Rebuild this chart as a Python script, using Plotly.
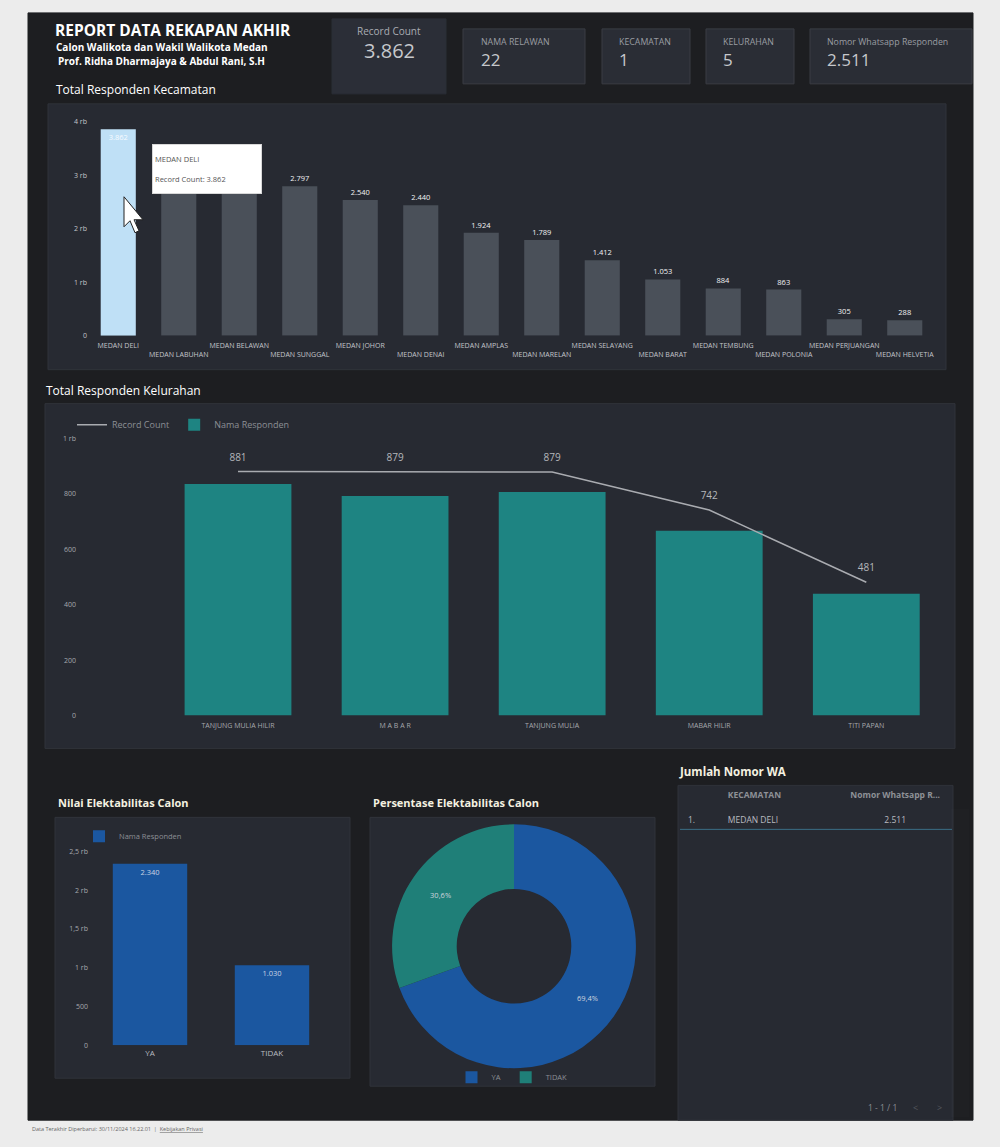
import plotly.graph_objects as go

W, H = 1000, 1147
FONT = "Open Sans"

# ---------------- data ----------------
kec_names = ["MEDAN DELI", "MEDAN LABUHAN", "MEDAN BELAWAN", "MEDAN SUNGGAL", "MEDAN JOHOR",
             "MEDAN DENAI", "MEDAN AMPLAS", "MEDAN MARELAN", "MEDAN SELAYANG", "MEDAN BARAT",
             "MEDAN TEMBUNG", "MEDAN POLONIA", "MEDAN PERJUANGAN", "MEDAN HELVETIA"]
kec_counts = [3862, 3150, 2950, 2797, 2540, 2440, 1924, 1789, 1412, 1053, 884, 863, 305, 288]
kec_hidden_labels = [1, 2]  # labels covered by the tooltip in the original
kec_tickvals = [0, 1000, 2000, 3000, 4000]
kec_ticktext = ["0", "1 rb", "2 rb", "3 rb", "4 rb"]

kel_names = ["TANJUNG MULIA HILIR", "M A B A R", "TANJUNG MULIA", "MABAR HILIR", "TITI PAPAN"]
kel_responden = [836, 793, 807, 667, 440]
kel_records = [881, 879, 879, 742, 481]
kel_tickvals = [0, 200, 400, 600, 800, 1000]
kel_ticktext = ["0", "200", "400", "600", "800", "1 rb"]

elek_labels = ["YA", "TIDAK"]
elek_values = [2340, 1030]
elek_tickvals = [0, 500, 1000, 1500, 2000, 2500]
elek_ticktext = ["0", "500", "1 rb", "1,5 rb", "2 rb", "2,5 rb"]

kpi_labels = ["Record Count", "NAMA RELAWAN", "KECAMATAN", "KELURAHAN", "Nomor Whatsapp Responden"]
kpi_values = [3862, 22, 1, 5, 2511]

wa_kecamatan = ["MEDAN DELI"]
wa_nomor = [2511]


def fmt(v):
    return f"{v:,}".replace(",", ".")


# page-to-figure mapping (compensates a slight vertical rescale of the captured page)
SY, OY = 0.9928, 4.1


def px(x):
    return x / W


def py(y):
    return 1 - ((y - OY) / SY) / H


# ---------------- colours ----------------
OUTER = "#ececec"
DARK = "#1d1e21"
PANEL = "#272a32"
PANEL_LINE = "#30333a"
CARD = "#2a2d35"
CARD_LINE = "#3a3d44"
AXIS = "#6a6d73"
TICK = "#c3c5ca"
GREY_BAR = "#4a5059"
HILITE = "#bfe0f6"
TEAL = "#1e8482"
BLUE = "#1b57a0"
PIE_TEAL = "#1f7f78"

fig = go.Figure()

# ---------------- chart 1: kecamatan ----------------
bar_colors = [HILITE] + [GREY_BAR] * (len(kec_names) - 1)
text_pos = ["inside"] + ["outside"] * (len(kec_names) - 1)
tmpl = ["" if i in kec_hidden_labels else "%{y:,}" for i in range(len(kec_names))]
fig.add_trace(go.Bar(
    x=kec_names, y=kec_counts, marker=dict(color=bar_colors, line=dict(width=0)),
    width=0.58, texttemplate=tmpl, textposition=text_pos, insidetextanchor="end",
    textfont=dict(color="#f2f2f2", size=7.5, family=FONT),
    insidetextfont=dict(color="#f7fbff", size=7.5, family=FONT),
    outsidetextfont=dict(color="#f2f2f2", size=7.5, family=FONT),
    cliponaxis=False, showlegend=False, xaxis="x", yaxis="y",
))

# ---------------- chart 2: kelurahan ----------------
fig.add_trace(go.Scatter(
    x=kel_names, y=kel_records, mode="lines+markers+text", name="Record Count",
    line=dict(color="#a9abb0", width=1.5),
    marker=dict(size=12, color="rgba(0,0,0,0)"),
    text=[fmt(v) for v in kel_records],
    textposition="top center", textfont=dict(color="#b5b7bb", size=10, family=FONT),
    cliponaxis=False, xaxis="x2", yaxis="y2", legend="legend2",
))
fig.add_trace(go.Bar(
    x=kel_names, y=kel_responden, name="Nama Responden",
    marker=dict(color=TEAL, line=dict(width=0)), width=0.68,
    xaxis="x2", yaxis="y2", legend="legend2",
))
fig.data[1].update(zorder=0)
fig.data[2].update(zorder=-1)

# ---------------- chart 3: elektabilitas ----------------
fig.add_trace(go.Bar(
    x=elek_labels, y=elek_values, name="Nama Responden",
    marker=dict(color=BLUE, line=dict(width=0)), width=0.61,
    texttemplate="%{y:,}", textposition="inside", insidetextanchor="end",
    insidetextfont=dict(color="#c9d3e2", size=7.5, family=FONT),
    xaxis="x3", yaxis="y3", legend="legend3",
))

# ---------------- chart 4: donut ----------------
fig.add_trace(go.Pie(
    labels=elek_labels, values=elek_values, hole=0.47, sort=False,
    direction="clockwise", rotation=0,
    marker=dict(colors=[BLUE, PIE_TEAL], line=dict(width=0)),
    texttemplate="%{percent:.1%}", textposition="inside",
    insidetextfont=dict(color="#cfd5de", size=7.5, family=FONT),
    domain=dict(x=[px(392), px(636)], y=[py(1068), py(824)]),
    legend="legend4",
))

# ---------------- chart 5: table ----------------
fig.add_trace(go.Table(
    domain=dict(x=[px(680), px(952)], y=[py(1118), py(781)]),
    columnwidth=[40, 120, 112],
    header=dict(values=["", "<b>KECAMATAN</b>", "<b>Nomor Whatsapp R...</b>"],
                fill_color="rgba(0,0,0,0)", line_color="rgba(0,0,0,0)", height=16,
                align=["left", "left", "center"],
                font=dict(color="#8e9197", size=8.5, family=FONT)),
    cells=dict(values=[["1."], wa_kecamatan, [fmt(v) for v in wa_nomor]],
               fill_color="rgba(0,0,0,0)", line_color="rgba(0,0,0,0)", height=16,
               align=["left", "left", "center"],
               font=dict(color="#b9bbc0", size=8.5, family=FONT)),
))

# ---------------- shapes (background / panels / cards) ----------------
shapes = []


def rect(x0, y0, x1, y1, fill, line=None, lw=1):
    shapes.append(dict(type="rect", xref="paper", yref="paper", layer="below",
                       x0=px(x0), x1=px(x1), y0=py(y1), y1=py(y0),
                       fillcolor=fill, line=dict(color=line or fill, width=lw)))


rect(28, 12, 973, 1120, DARK)
rect(48, 103, 946, 369, PANEL, PANEL_LINE)
rect(45, 403, 955, 748, PANEL, PANEL_LINE)
rect(55, 817, 350, 1078, PANEL, PANEL_LINE)
rect(370, 817, 655, 1086, PANEL, PANEL_LINE)
rect(678, 785, 953, 1120, PANEL, PANEL_LINE)
cards = [(332, 18, 446, 93), (463, 28, 585, 83), (602, 28, 690, 83), (706, 28, 794, 83), (810, 28, 972, 83)]
rect(*cards[0], "#2b2e37", "#2b2e37")
for c in cards[1:]:
    rect(*c, CARD, CARD_LINE)
shapes.append(dict(type="line", xref="paper", yref="paper", x0=px(680), x1=px(952),
                   y0=py(829), y1=py(829), line=dict(color="#3b6f86", width=1)))

# mouse pointer seen over the first bar
cur = [(124, 196), (124, 226), (130, 220), (135, 232), (139, 230), (134, 219), (143, 219)]
path = "M " + " L ".join(f"{px(a):.5f},{py(b):.5f}" for a, b in cur) + " Z"
shapes.append(dict(type="path", xref="paper", yref="paper", path=path,
                   fillcolor="#ffffff", line=dict(color="#222222", width=1)))

# ---------------- annotations ----------------
ann = []


def text(x, y, s, size, color, xanchor="left", yanchor="middle", bold=False, **kw):
    if bold:
        s = f"<b>{s}</b>"
    ann.append(dict(x=px(x), y=py(y), xref="paper", yref="paper", text=s, showarrow=False,
                    xanchor=xanchor, yanchor=yanchor,
                    font=dict(size=size, color=color, family=FONT), **kw))


text(53, 29, "REPORT DATA REKAPAN AKHIR", 15.5, "#ffffff", bold=True)
text(54, 46, "Calon Walikota dan Wakil Walikota Medan", 10, "#ffffff", bold=True)
text(56, 59.7, "Prof. Ridha Dharmajaya & Abdul Rani, S.H", 10, "#ffffff", bold=True)

text(389, 30, kpi_labels[0], 10, "#a9acb2", xanchor="center")
text(389, 50, fmt(kpi_values[0]), 20, "#c6c8cc", xanchor="center")
kpi_x = [None, 479, 617, 721, 825]
for i in range(1, 5):
    text(kpi_x[i], 41, kpi_labels[i], 8.8, "#9a9da3")
    text(kpi_x[i], 59, fmt(kpi_values[i]), 17, "#c6c8cc")

text(54, 89, "Total Responden Kecamatan", 12, "#ffffff")
text(44, 390, "Total Responden Kelurahan", 12, "#ffffff")
text(56, 802, "Nilai Elektabilitas Calon", 11, "#f4f1e0", bold=True)
text(371, 802, "Persentase Elektabilitas Calon", 11, "#f4f1e0", bold=True)
text(677, 771, "Jumlah Nomor WA", 11.5, "#f4f1e0", bold=True)

ann.append(dict(x=px(152), y=py(143), xref="paper", yref="paper", xanchor="left", yanchor="top",
                text=f"MEDAN DELI<br><br>Record Count: {fmt(kec_counts[0])}",
                showarrow=False, align="left", width=104, height=44, valign="middle",
                bgcolor="#ffffff", bordercolor="#d8d8d8", borderwidth=1, borderpad=2,
                font=dict(size=7.5, color="#555555", family=FONT)))

text(882, 1107, "1 - 1 / 1", 8.5, "#8a8d93", xanchor="center")
text(915, 1107, "&lt;", 9, "#55585e", xanchor="center")
text(939, 1107, "&gt;", 9, "#55585e", xanchor="center")

text(30, 1129, "Data Terakhir Diperbarui: 30/11/2024 16.22.01  |  <u>Kebijakan Privasi</u>", 5.5, "#666666")

# ---------------- axes ----------------
kec_ticklabels = [n if i % 2 == 0 else "<br>" + n for i, n in enumerate(kec_names)]
tickfont = dict(size=7, color=TICK, family=FONT)

fig.update_layout(
    width=W, height=H, margin=dict(l=0, r=0, t=0, b=0),
    paper_bgcolor=OUTER, plot_bgcolor="rgba(0,0,0,0)",
    separators=",.", font=dict(family=FONT),
    shapes=shapes, annotations=ann,
    xaxis=dict(domain=[px(88), px(935)], type="category", range=[-0.5, 13.5],
               tickvals=kec_names, ticktext=kec_ticklabels, tickfont=tickfont, tickangle=0,
               ticklabelstandoff=3,
               showline=True, linecolor=AXIS, linewidth=1, showgrid=False, ticks="",
               anchor="y"),
    yaxis=dict(domain=[py(335), py(121)], range=[0, 4000], tickvals=kec_tickvals,
               ticktext=kec_ticktext, tickfont=tickfont, showgrid=False, zeroline=False,
               showline=False, anchor="x"),
    xaxis2=dict(domain=[px(77), px(937)], type="category", range=[-1.025, 4.45],
                tickfont=dict(size=7, color="#a6a8ad", family=FONT), tickangle=0, showline=True,
                ticklabelstandoff=3,
                linecolor=AXIS, showgrid=False, ticks="", anchor="y2"),
    yaxis2=dict(domain=[py(715), py(438)], range=[0, 1000], tickvals=kel_tickvals,
                ticktext=kel_ticktext, tickfont=dict(size=7, color="#a6a8ad", family=FONT),
                showgrid=False, zeroline=False, anchor="x2"),
    xaxis3=dict(domain=[px(89), px(333)], type="category", range=[-0.5, 1.5],
                tickfont=dict(size=8, color="#b9bbc0", family=FONT), tickangle=0, showline=True,
                linecolor=AXIS, showgrid=False, ticks="", anchor="y3"),
    yaxis3=dict(domain=[py(1045), py(851)], range=[0, 2500], tickvals=elek_tickvals,
                ticktext=elek_ticktext, tickfont=dict(size=7, color="#a6a8ad", family=FONT),
                showgrid=False, zeroline=False, anchor="x3"),
    legend2=dict(orientation="h", x=px(72), y=py(424), xanchor="left", yanchor="middle",
                 bgcolor="rgba(0,0,0,0)", font=dict(size=9, color="#8c8f95", family=FONT),
                 traceorder="normal"),
    legend3=dict(orientation="h", x=px(79), y=py(836), xanchor="left", yanchor="middle",
                 bgcolor="rgba(0,0,0,0)", font=dict(size=7.5, color="#8c8f95", family=FONT)),
    legend4=dict(orientation="h", x=px(512), y=py(1077), xanchor="center", yanchor="middle",
                 bgcolor="rgba(0,0,0,0)", font=dict(size=7.5, color="#8c8f95", family=FONT)),
    showlegend=True,
)

fig.write_html("out.html")
